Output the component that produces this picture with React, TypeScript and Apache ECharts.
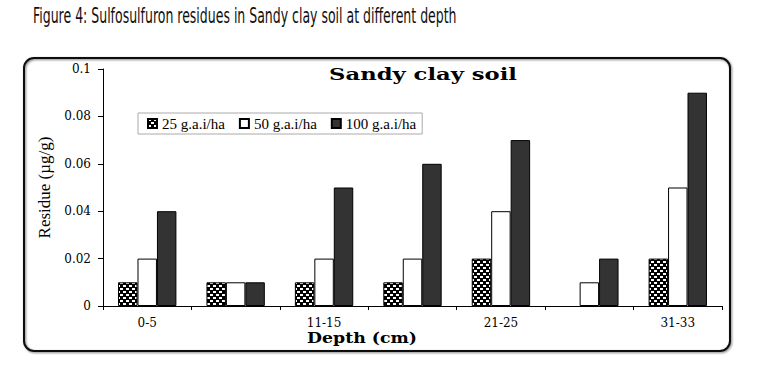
import React, { useEffect, useRef } from "react";
import * as echarts from "echarts";

const categories = ["0-5", "6-10", "11-15", "16-20", "21-25", "26-30", "31-33"];
const seriesNames = ["25 g.a.i/ha", "50 g.a.i/ha", "100 g.a.i/ha"];
const rate25 = [0.01, 0.01, 0.01, 0.01, 0.02, 0, 0.02];
const rate50 = [0.02, 0.01, 0.02, 0.02, 0.04, 0.01, 0.05];
const rate100 = [0.04, 0.01, 0.05, 0.06, 0.07, 0.02, 0.09];

const figureTitle = "Figure 4: Sulfosulfuron residues in Sandy clay soil at different depth";
const chartTitle = "Sandy clay soil";
const xName = "Depth (cm)";
const yName = "Residue (\u00b5g/g)";

function measure(text: string, font: string): number {
  const c = document.createElement("canvas").getContext("2d");
  if (!c) return text.length * 8;
  c.font = font;
  return c.measureText(text).width;
}

function makePattern(): HTMLCanvasElement {
  const cv = document.createElement("canvas");
  cv.width = 6;
  cv.height = 6;
  const ctx = cv.getContext("2d")!;
  ctx.fillStyle = "#000";
  ctx.fillRect(0, 0, 6, 6);
  ctx.fillStyle = "#fff";
  ctx.fillRect(0, 0, 3, 2);
  ctx.fillRect(3, 3, 3, 2);
  return cv;
}

const hideZero = (arr: number[]) =>
  arr.map((v) => (v === 0 ? { value: v, itemStyle: { borderWidth: 0 } } : v));

export default function App() {
  const ref = useRef<HTMLDivElement>(null);
  useEffect(() => {
    document.body.style.margin = "0";
    const chart = echarts.init(ref.current!, undefined, { renderer: "svg" });
    const titleScale = 424 / measure(figureTitle, "21px DejaVu Sans");
    const subScale = 188 / measure(chartTitle, "bold 17px DejaVu Serif");
    const xScale = 110 / measure(xName, "bold 15px DejaVu Serif");
    const pattern = makePattern();

    const barBase = { type: "bar", barGap: "0%", barCategoryGap: "34%" };
    chart.setOption({
      animation: false,
      backgroundColor: "#fff",
      graphic: [
        {
          type: "text",
          x: 33,
          y: 5,
          scaleX: titleScale,
          style: {
            text: figureTitle,
            fontFamily: "DejaVu Sans",
            fontSize: 21,
            fill: "#111",
          },
        },
        {
          type: "rect",
          shape: { x: 24, y: 58, width: 706, height: 293, r: 10 },
          style: {
            fill: "none",
            stroke: "#111",
            lineWidth: 2,
            shadowBlur: 2,
            shadowOffsetX: 1,
            shadowOffsetY: 1,
            shadowColor: "rgba(0,0,0,0.5)",
          },
          silent: true,
          z: -1,
        },
        {
          type: "text",
          x: 423,
          y: 66,
          scaleX: subScale,
          style: {
            text: chartTitle,
            fontFamily: "DejaVu Serif",
            fontWeight: "bold",
            fontSize: 17,
            fill: "#000",
            textAlign: "center",
          },
        },
        {
          type: "text",
          x: 362,
          y: 330,
          scaleX: xScale,
          style: {
            text: xName,
            fontFamily: "DejaVu Serif",
            fontWeight: "bold",
            fontSize: 15,
            fill: "#000",
            textAlign: "center",
          },
        },
      ],
      legend: {
        left: 138,
        top: 113,
        orient: "horizontal",
        data: seriesNames,
        icon: "rect",
        itemWidth: 9,
        itemHeight: 9,
        itemGap: 14,
        padding: [3, 6, 3, 9],
        borderColor: "#aaa",
        borderWidth: 1,
        backgroundColor: "#fff",
        textStyle: {
          fontFamily: "Liberation Serif",
          fontSize: 15,
          lineHeight: 13,
          color: "#000",
        },
      },
      grid: { left: 103, right: 42, top: 69, bottom: 60, containLabel: false },
      xAxis: {
        type: "category",
        data: categories,
        axisLine: { lineStyle: { color: "#000", width: 1 } },
        axisTick: { show: true, interval: 0, length: 4, lineStyle: { color: "#000" } },
        axisLabel: {
          interval: 1,
          margin: 11,
          color: "#000",
          fontFamily: "DejaVu Serif",
          fontSize: 12,
        },
      },
      yAxis: {
        type: "value",
        min: 0,
        max: 0.1,
        interval: 0.02,
        name: yName,
        nameLocation: "middle",
        nameGap: 48,
        nameTextStyle: { fontFamily: "Liberation Serif", fontSize: 17, color: "#000" },
        splitLine: { show: false },
        axisLine: { show: true, lineStyle: { color: "#000", width: 1 } },
        axisTick: { show: true, length: 5, lineStyle: { color: "#000" } },
        axisLabel: {
          margin: 12,
          color: "#000",
          fontFamily: "DejaVu Serif",
          fontSize: 12,
        },
      },
      series: [
        {
          ...barBase,
          name: seriesNames[0],
          data: hideZero(rate25),
          itemStyle: {
            color: { image: pattern, repeat: "repeat" },
            borderColor: "#000",
            borderWidth: 1,
          },
        },
        {
          ...barBase,
          name: seriesNames[1],
          data: hideZero(rate50),
          itemStyle: { color: "#fff", borderColor: "#000", borderWidth: 1 },
        },
        {
          ...barBase,
          name: seriesNames[2],
          data: hideZero(rate100),
          itemStyle: { color: "#333", borderColor: "#000", borderWidth: 1 },
        },
      ],
    });
    return () => chart.dispose();
  }, []);
  return (
    <div
      ref={ref}
      style={{ position: "absolute", left: 0, top: 0, width: 764, height: 366 }}
    />
  );
}
